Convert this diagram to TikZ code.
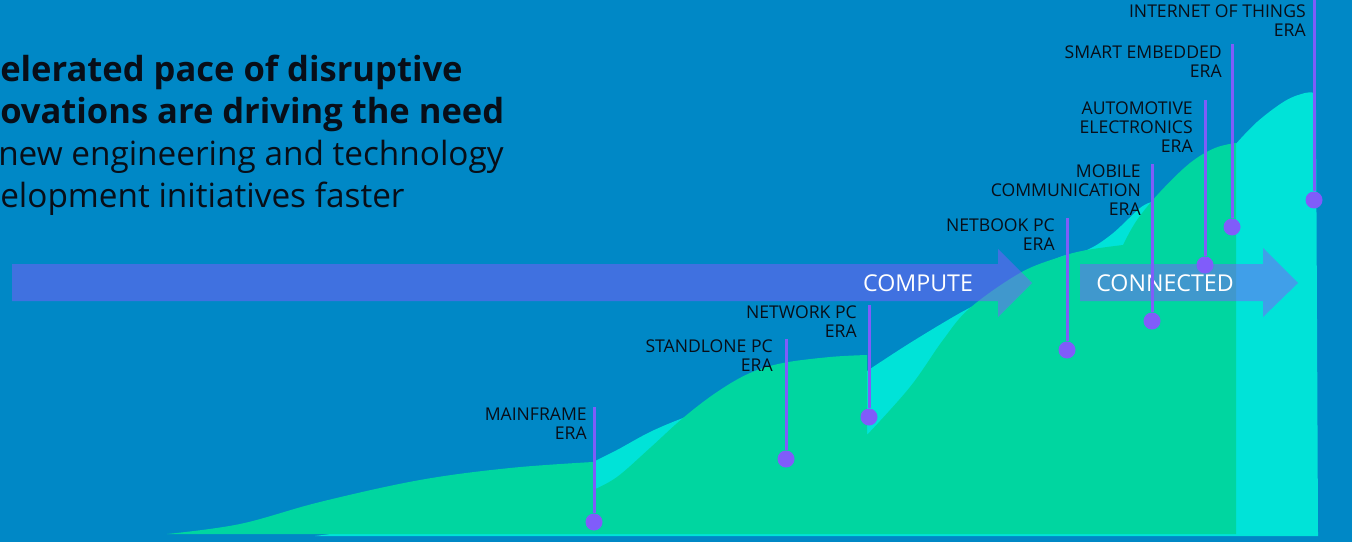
\documentclass[tikz,border=0pt]{standalone}
\usepackage{fontspec}
\setmainfont{Open Sans}
\definecolor{bgblue}{RGB}{0,136,198}
\definecolor{eragreen}{RGB}{0,214,160}
\definecolor{eraaqua}{RGB}{0,227,216}
\definecolor{eraviolet}{RGB}{128,92,250}
\definecolor{ink}{RGB}{8,14,24}
\tikzset{%
    dot/.style={circle,fill=eraviolet,inner sep=0pt,minimum size=12.75pt},
    leader/.style={draw=eraviolet,line width=2.25pt},
    lbl/.style={anchor=north east,inner sep=0pt,align=right,text=ink,font=\fontsize{13.2}{14.3}\selectfont},
    band/.style={fill=eraviolet,fill opacity=0.5},
    bandtxt/.style={inner sep=0pt,text=white,font=\fontsize{17.4}{20}\selectfont},
    headb/.style={anchor=base west,inner sep=0pt,text=ink,font=\fontsize{25.9}{30}\selectfont\bfseries},
    headr/.style={anchor=base west,inner sep=0pt,text=ink,font=\fontsize{25}{30}\selectfont}
}
\begin{document}
\begin{tikzpicture}[x=0.75pt,y=-0.75pt]
    \useasboundingbox (0,0) rectangle (1352,542);
    \clip (0,0) rectangle (1352,542);
    \fill[bgblue] (0,0) rectangle (1352,542);
    % lighter wave behind
    \fill[eraaqua] (593,500) -- (593,462)
        -- plot[smooth,tension=0.6] coordinates {(593,462) (617,450) (650,432) (683,418) (720,405)}
        -- (860,385) -- (867,371)
        -- plot[smooth,tension=0.6] coordinates {(867,371) (910,343) (960,313) (993,296) (1027,273) (1060,257) (1087,250) (1112,234) (1140,208) (1152,202)}
        -- (1160,215) -- (1230,160) -- (1234,146)
        -- plot[smooth,tension=0.6] coordinates {(1234,146) (1257,122) (1285,101) (1305,93) (1315,93)}
        -- (1316,110) -- (1318,536) -- (315,536) -- cycle;
    % front wave
    \fill[eragreen] (167,534)
        -- plot[smooth,tension=0.6] coordinates {(167,534) (240,524) (320,502) (420,480) (510,468) (593,462)}
        -- (593,490)
        -- plot[smooth,tension=0.6] coordinates {(593,490) (617,477) (650,448) (683,418) (717,392) (750,373) (783,363) (830,357) (867,355)}
        -- (867,435)
        -- plot[smooth,tension=0.6] coordinates {(867,435) (910,387) (943,340) (970,308) (1020,273) (1060,257) (1087,250) (1123,245)}
        -- plot[smooth,tension=0.6] coordinates {(1123,245) (1137,220) (1160,192) (1190,163) (1215,148) (1236,143)}
        -- (1236,534) -- cycle;
    % the two bands
    \fill[band] (12,264) -- (998,264) -- (998,249) -- (1032,283) -- (998,317) -- (998,301) -- (12,301) -- cycle;
    \fill[band] (1080,264) -- (1263,264) -- (1263,248) -- (1298,283) -- (1263,317) -- (1263,301) -- (1080,301) -- cycle;
    \node[bandtxt] (compute) at (918,283) {COMPUTE};
    \node[bandtxt] (connected) at (1165,283) {CONNECTED};
    % headline
    \node[headb] (h1) at (0,82) {elerated pace of disruptive};
    \node[headb] (h2) at (0,123) {ovations are driving the need};
    \node[headr] (h3) at (-2,165) {new engineering and technology};
    \node[headr] (h4) at (0,207) {elopment initiatives faster};
    % eras
    \node[lbl] (mainL) at (587,408) {MAINFRAME\\ERA};
    \coordinate (mainT) at (594,407);
    \node[dot] (mainD) at (594,522) {};
    \node[lbl] (standL) at (773,339) {STANDLONE PC\\ERA};
    \coordinate (standT) at (786,339);
    \node[dot] (standD) at (786,459) {};
    \node[lbl] (netwL) at (857,305) {NETWORK PC\\ERA};
    \coordinate (netwT) at (869,305);
    \node[dot] (netwD) at (869,417) {};
    \node[lbl] (netbL) at (1055,218) {NETBOOK PC\\ERA};
    \coordinate (netbT) at (1067,218);
    \node[dot] (netbD) at (1067,350) {};
    \node[lbl] (mobL) at (1141,164) {MOBILE\\COMMUNICATION\\ERA};
    \coordinate (mobT) at (1152,164);
    \node[dot] (mobD) at (1152,321) {};
    \node[lbl] (autoL) at (1193,101) {AUTOMOTIVE\\ELECTRONICS\\ERA};
    \coordinate (autoT) at (1205,100);
    \node[dot] (autoD) at (1205,265) {};
    \node[lbl] (smartL) at (1222,45) {SMART EMBEDDED\\ERA};
    \coordinate (smartT) at (1232,44);
    \node[dot] (smartD) at (1232,227) {};
    \node[lbl] (iotL) at (1306,4) {INTERNET OF THINGS\\ERA};
    \coordinate (iotT) at (1314,0);
    \node[dot] (iotD) at (1314,200) {};
    \draw[leader] (mainT) -- (mainD) (standT) -- (standD) (netwT) -- (netwD) (netbT) -- (netbD)
        (mobT) -- (mobD) (autoT) -- (autoD) (smartT) -- (smartD) (iotT) -- (iotD);
\end{tikzpicture}
\end{document}
